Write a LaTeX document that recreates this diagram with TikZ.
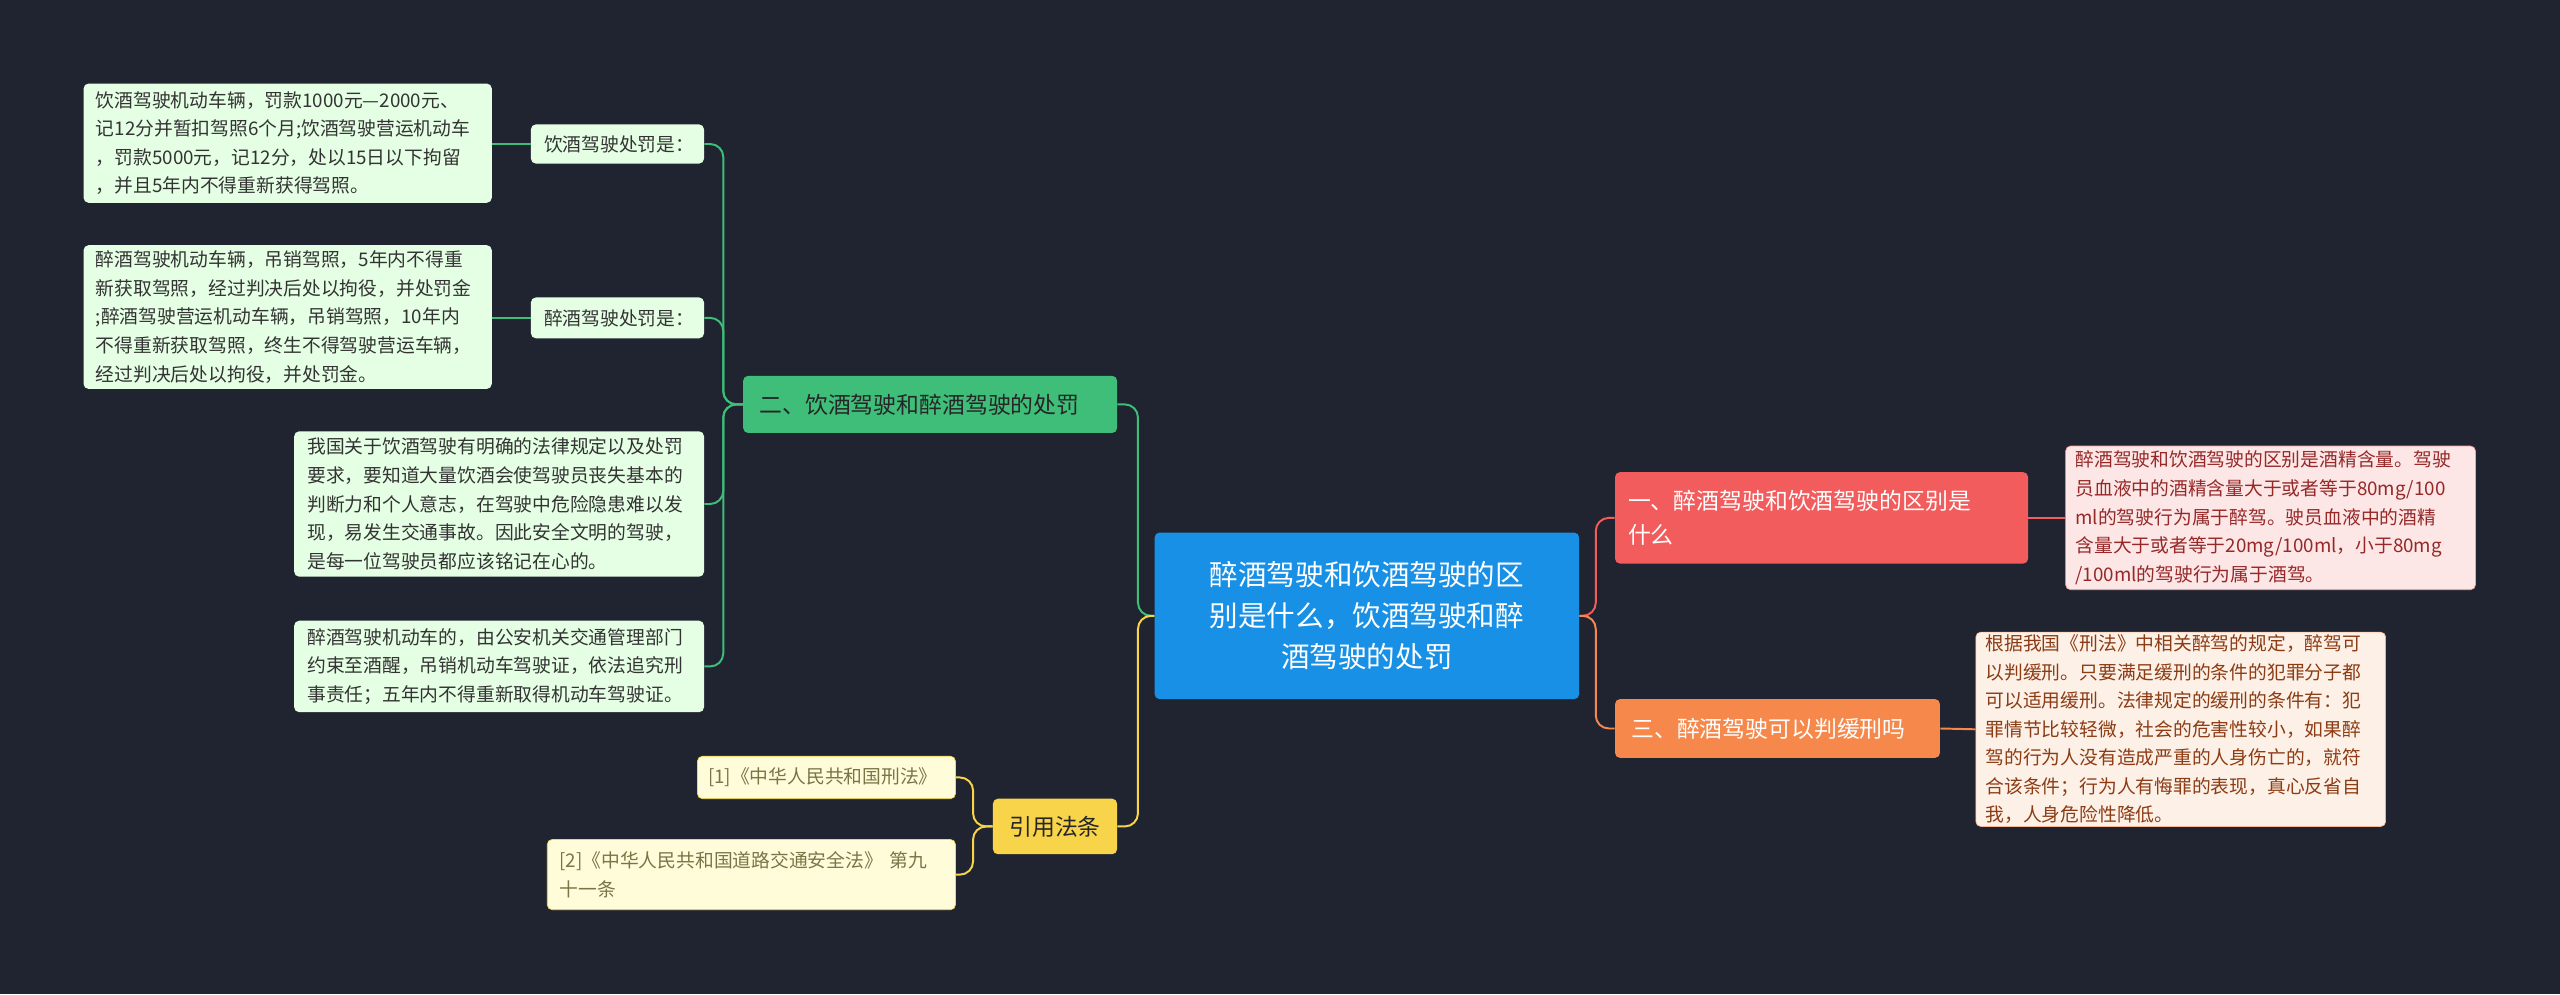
\documentclass[tikz,border=0pt]{standalone}
\usepackage{fontspec}
\setmainfont{Noto Sans CJK SC}
\begin{document}
\begin{tikzpicture}[x=1pt,y=-1pt,
 box/.style={anchor=north west,rounded corners=3pt,inner sep=0pt,align=left,font=\fontsize{11.5}{17.5}\selectfont},
 leafg/.style={box,fill=green!10!white,text=black!80},
 leafy/.style={box,fill=yellow!15!white,text=yellow!40!black},
 lg/.style={draw=green!60!black!70!white,line width=1.2pt,rounded corners=6pt},
]
\fill[fill={rgb,255:red,32;green,36;blue,48}] (0,0) rectangle (1568,609);
\useasboundingbox (0,0) rectangle (1568,609);
\definecolor{cg}{RGB}{62,190,120}
\definecolor{cy}{RGB}{248,212,74}
\definecolor{cr}{RGB}{242,92,92}
\definecolor{co}{RGB}{245,136,74}
\definecolor{cb}{RGB}{24,144,230}
% center
\node[box,fill=cb,text=white,minimum width=260,minimum height=102,text width=250,align=center,font=\fontsize{17.5}{25}\selectfont] (c) at (707,326) {醉酒驾驶和饮酒驾驶的区\\别是什么，饮酒驾驶和醉\\酒驾驶的处罚};
% right
\node[box,fill=cr,text=white,minimum width=253,minimum height=56,text width=245,font=\fontsize{14}{21}\selectfont] (r1) at (989,289) {\hspace*{4pt}一、醉酒驾驶和饮酒驾驶的区别是\\\hspace*{4pt}什么};
\node[box,fill={rgb,255:red,253;green,230;blue,230},draw=cr!60,text={rgb,255:red,150;green,40;blue,40},minimum width=251,minimum height=88,text width=245] (r1l) at (1265,273) {\hspace*{3pt}醉酒驾驶和饮酒驾驶的区别是酒精含量。驾驶\\\hspace*{3pt}员血液中的酒精含量大于或者等于80mg/100\\\hspace*{3pt}ml的驾驶行为属于醉驾。驶员血液中的酒精\\\hspace*{3pt}含量大于或者等于20mg/100ml，小于80mg\\\hspace*{3pt}/100ml的驾驶行为属于酒驾。};
\node[box,fill=co,text=white,minimum width=199,minimum height=36,text width=195,font=\fontsize{14}{21}\selectfont] (r2) at (989,428) {\hspace*{8pt}三、醉酒驾驶可以判缓刑吗};
\node[box,fill={rgb,255:red,253;green,240;blue,230},draw=co!60,text={rgb,255:red,140;green,60;blue,20},minimum width=251,minimum height=119,text width=245] (r2l) at (1210,387) {\hspace*{3pt}根据我国《刑法》中相关醉驾的规定，醉驾可\\\hspace*{3pt}以判缓刑。只要满足缓刑的条件的犯罪分子都\\\hspace*{3pt}可以适用缓刑。法律规定的缓刑的条件有：犯\\\hspace*{3pt}罪情节比较轻微，社会的危害性较小，如果醉\\\hspace*{3pt}驾的行为人没有造成严重的人身伤亡的，就符\\\hspace*{3pt}合该条件；行为人有悔罪的表现，真心反省自\\\hspace*{3pt}我，人身危险性降低。};
% left green
\node[box,fill=cg,text=black!85,minimum width=229,minimum height=35,text width=225,font=\fontsize{14}{21}\selectfont] (g) at (455,230) {\hspace*{8pt}二、饮酒驾驶和醉酒驾驶的处罚};
\node[leafg,minimum width=106,minimum height=24,text width=100] (g1) at (325,76) {\hspace*{5pt}饮酒驾驶处罚是：};
\node[leafg,minimum width=250,minimum height=73,text width=245] (g1l) at (51,51) {\hspace*{5pt}饮酒驾驶机动车辆，罚款1000元—2000元、\\\hspace*{5pt}记12分并暂扣驾照6个月;饮酒驾驶营运机动车\\\hspace*{5pt}，罚款5000元，记12分，处以15日以下拘留\\\hspace*{5pt}，并且5年内不得重新获得驾照。};
\node[leafg,minimum width=106,minimum height=25,text width=100] (g2) at (325,182) {\hspace*{5pt}醉酒驾驶处罚是：};
\node[leafg,minimum width=250,minimum height=88,text width=245] (g2l) at (51,150) {\hspace*{5pt}醉酒驾驶机动车辆，吊销驾照，5年内不得重\\\hspace*{5pt}新获取驾照，经过判决后处以拘役，并处罚金\\\hspace*{5pt};醉酒驾驶营运机动车辆，吊销驾照，10年内\\\hspace*{5pt}不得重新获取驾照，终生不得驾驶营运车辆，\\\hspace*{5pt}经过判决后处以拘役，并处罚金。};
\node[leafg,minimum width=251,minimum height=89,text width=245] (g3) at (180,264) {\hspace*{5pt}我国关于饮酒驾驶有明确的法律规定以及处罚\\\hspace*{5pt}要求，要知道大量饮酒会使驾驶员丧失基本的\\\hspace*{5pt}判断力和个人意志，在驾驶中危险隐患难以发\\\hspace*{5pt}现，易发生交通事故。因此安全文明的驾驶，\\\hspace*{5pt}是每一位驾驶员都应该铭记在心的。};
\node[leafg,minimum width=251,minimum height=56,text width=245] (g4) at (180,380) {\hspace*{5pt}醉酒驾驶机动车的，由公安机关交通管理部门\\\hspace*{5pt}约束至酒醒，吊销机动车驾驶证，依法追究刑\\\hspace*{5pt}事责任；五年内不得重新取得机动车驾驶证。};
% left yellow
\node[box,fill=cy,text=black!85,minimum width=76,minimum height=34,text width=76,align=center,font=\fontsize{14}{21}\selectfont] (y) at (608,489) {引用法条};
\node[leafy,draw=cy,minimum width=158,minimum height=26,text width=155] (y1) at (427,463) {\hspace*{5pt}[1]《中华人民共和国刑法》};
\node[leafy,draw=cy,minimum width=250,minimum height=43,text width=245] (y2) at (335,514) {\hspace*{5pt}[2]《中华人民共和国道路交通安全法》 第九\\\hspace*{5pt}十一条};
% connectors
\foreach \t/\col in {g/cg,y/cy}{\draw[draw=\col,line width=1.2pt,rounded corners=8pt] (c.west) -- ++(-10,0) |- (\t.east);}
\foreach \t/\col in {r1/cr,r2/co}{\draw[draw=\col,line width=1.2pt,rounded corners=8pt] (c.east) -- ++(10,0) |- (\t.west);}
\draw[cr,line width=1.2pt] (r1.east) -- (r1l.west);
\draw[co,line width=1.2pt] (r2.east) -- (r2l.west);
\foreach \t in {g1,g2,g3,g4}{\draw[cg,line width=1.2pt,rounded corners=8pt] (g.west) -- ++(-12,0) |- (\t.east);}
\draw[cg,line width=1.2pt] (g1l.east|-g1.east) -- (g1.west);
\draw[cg,line width=1.2pt] (g2l.east|-g2.east) -- (g2.west);
\foreach \t in {y1,y2}{\draw[cy,line width=1.2pt,rounded corners=8pt] (y.west) -- ++(-12,0) |- (\t.east);}
\end{tikzpicture}
\end{document}
